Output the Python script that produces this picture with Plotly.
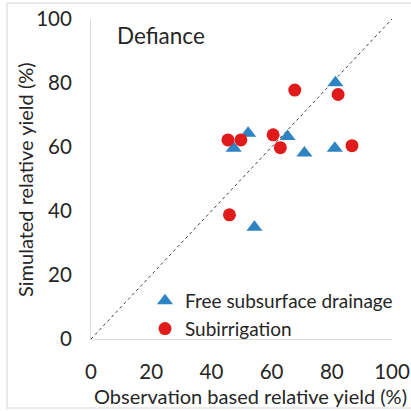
import plotly.graph_objects as go

free_x = [47.4, 52.2, 54.3, 65.3, 70.9, 81.0, 81.2]
free_y = [59.6, 64.3, 34.9, 63.3, 58.1, 59.6, 80.1]
sub_x = [45.5, 49.8, 46.0, 60.5, 62.9, 67.7, 82.1, 86.7]
sub_y = [62.2, 62.2, 38.8, 63.8, 59.8, 77.8, 76.4, 60.4]
line_xy = [0, 100]
ticks = [0, 20, 40, 60, 80, 100]

W, H = 411, 411
L, R, T, B = 91, 19, 19, 72
pw, ph = W - L - R, H - T - B

def px(x):
    return (x - L) / pw

def py(y):
    return (H - B - y) / ph

font = "Lato, 'Open Sans', sans-serif"
tc = "#262626"
fig = go.Figure()
fig.add_trace(go.Scatter(x=line_xy, y=line_xy, mode="lines", showlegend=False,
                         line=dict(color="#404040", width=1, dash="dot"), hoverinfo="skip"))
fig.add_trace(go.Scatter(x=free_x, y=free_y, mode="markers", name="Free subsurface drainage",
                         marker=dict(symbol="triangle-up", size=14, color="#2E83C3")))
fig.add_trace(go.Scatter(x=sub_x, y=sub_y, mode="markers", name="Subirrigation",
                         marker=dict(symbol="circle", size=13, color="#E11B1B")))

axis_common = dict(range=[0, 100], tickvals=ticks, showgrid=False, zeroline=False,
                   showline=True, linecolor="#D9D9D9", linewidth=1, automargin=False,
                   ticks="outside", ticklen=14, tickcolor="rgba(0,0,0,0)",
                   tickfont=dict(size=20.5, color=tc, family=font))
fig.update_xaxes(**axis_common)
fig.update_yaxes(**axis_common)

fig.add_annotation(text="Observation based relative yield (%)", xref="paper", yref="paper",
                   x=px(250), y=py(396), xanchor="center", yanchor="middle", showarrow=False,
                   font=dict(size=20, color=tc, family=font))
fig.add_annotation(text="Simulated relative yield (%)", xref="paper", yref="paper",
                   x=px(25), y=py(180), xanchor="center", yanchor="middle", showarrow=False,
                   textangle=-90, font=dict(size=20, color=tc, family=font))
fig.add_annotation(text="Defiance", xref="paper", yref="paper", x=px(115), y=py(36),
                   xanchor="left", yanchor="middle", showarrow=False,
                   font=dict(size=22.5, color=tc, family=font))

fig.add_shape(type="rect", xref="paper", yref="paper", x0=px(7), y0=py(408), x1=px(413), y1=py(3),
              line=dict(color="#E3E3E3", width=1.5), fillcolor="rgba(0,0,0,0)")

fig.update_layout(width=W, height=H, margin=dict(l=L, r=R, t=T, b=B, autoexpand=False),
                  paper_bgcolor="white", plot_bgcolor="white",
                  font=dict(family=font, color=tc),
                  legend=dict(x=px(145), y=py(282), xanchor="left", yanchor="top",
                              bgcolor="rgba(0,0,0,0)", font=dict(size=19, color=tc, family=font),
                              itemwidth=30, tracegroupgap=0))

fig.write_html("out.html")
